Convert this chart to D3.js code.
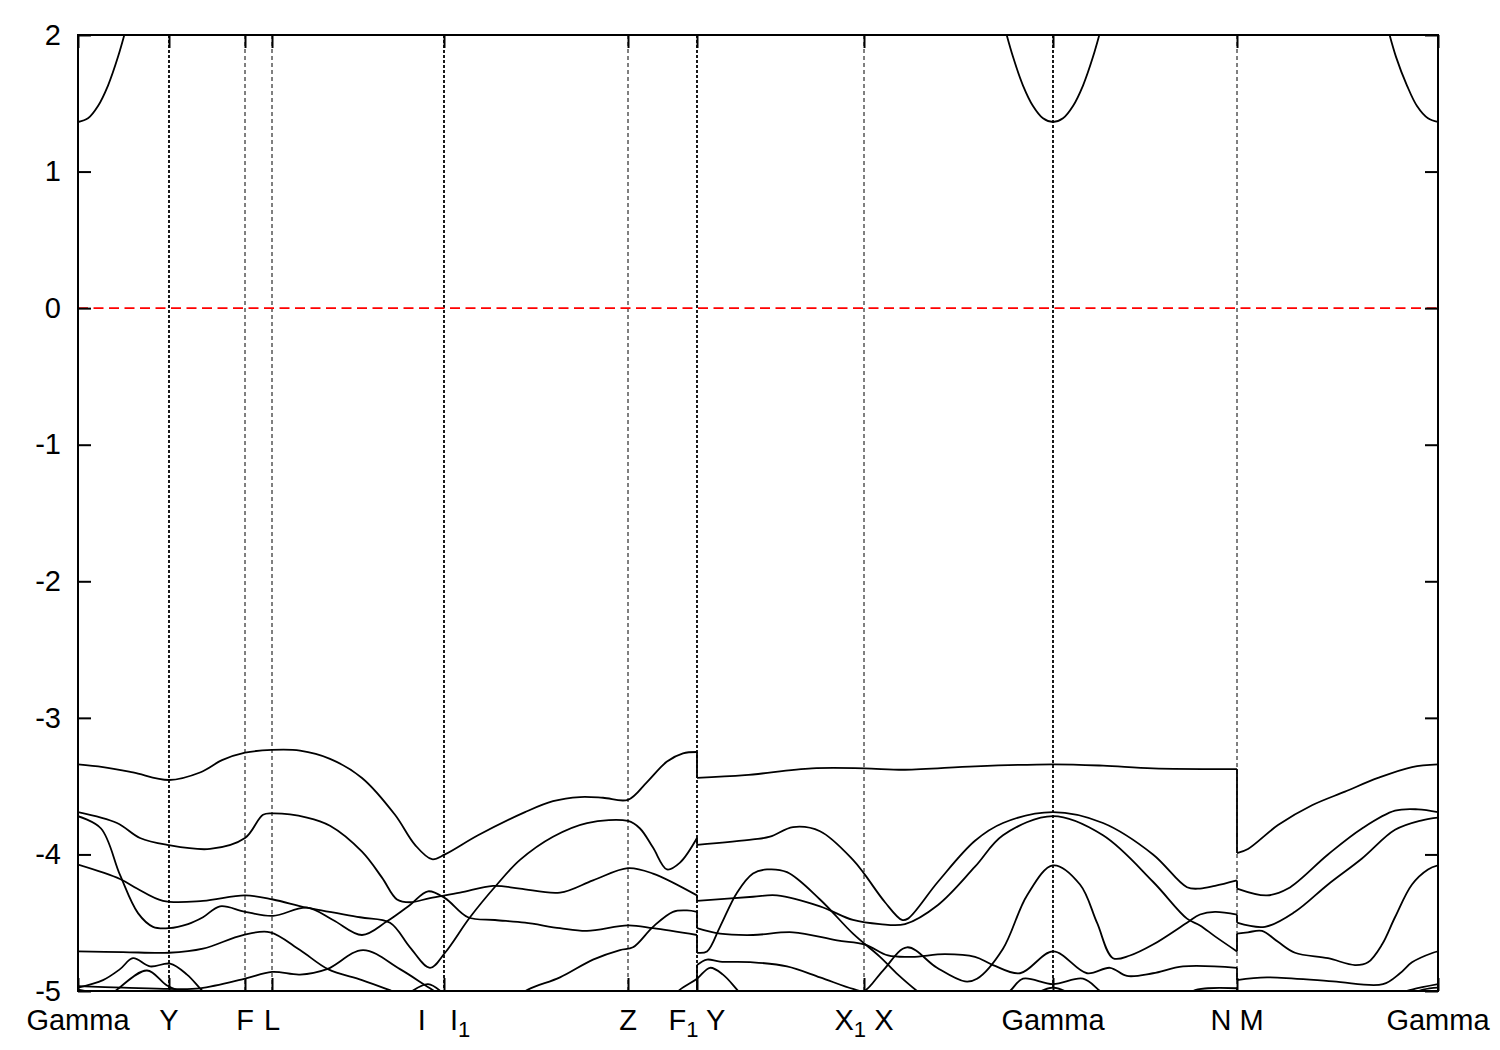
<!DOCTYPE html>
<html>
<head>
<meta charset="utf-8">
<script src="https://cdn.jsdelivr.net/npm/d3@7/dist/d3.min.js"></script>
<style>
  html, body { margin: 0; padding: 0; background: #fff; }
  svg { display: block; }
</style>
</head>
<body>
<script>
// ---------------- DATA ----------------
// high-symmetry k-point positions (path length units) and their labels
const kPositions = [0, 0.91, 1.67, 1.94, 3.66, 5.50, 6.19, 7.86, 9.75, 11.59, 13.60];
const kLabels = ["Gamma", "Y", "F", "L", "I   I_1", "Z", "F_1 Y", "X_1 X", "Gamma", "N M", "Gamma"];
const energyTicks = [-5, -4, -3, -2, -1, 0, 1, 2];
const fermiLevel = 0;

// conduction band pieces [k, E]
const cb1 = [[0,1.363],[0.10,1.39],[0.20,1.48],[0.30,1.63],[0.40,1.84],[0.50,2.10]];
const cb2 = [[9.25,2.10],[9.35,1.84],[9.45,1.63],[9.55,1.48],[9.65,1.39],[9.75,1.363],[9.85,1.39],[9.95,1.48],[10.05,1.63],[10.15,1.84],[10.25,2.10]];
const cb3 = [[13.08,2.10],[13.18,1.84],[13.29,1.63],[13.39,1.48],[13.50,1.39],[13.60,1.363]];

// valence bands [k, E]; a repeated k marks a discontinuity of the path
const band1 = [[0,-3.34],[0.25,-3.36],[0.55,-3.40],[0.91,-3.455],[1.22,-3.40],[1.44,-3.31],[1.67,-3.255],[1.94,-3.235],[2.22,-3.24],[2.52,-3.30],[2.84,-3.44],[3.17,-3.71],[3.37,-3.93],[3.54,-4.035],[3.67,-4.00],[4.00,-3.86],[4.47,-3.69],[4.75,-3.61],[5.02,-3.58],[5.25,-3.585],[5.50,-3.60],[5.69,-3.47],[5.89,-3.32],[6.05,-3.26],[6.19,-3.25],
  [6.19,-3.44],[6.67,-3.42],[7.34,-3.37],[7.86,-3.37],[8.27,-3.38],[8.97,-3.355],[9.75,-3.34],[10.25,-3.35],[10.75,-3.37],[11.59,-3.375],
  [11.59,-3.99],[11.70,-3.96],[12.00,-3.785],[12.34,-3.64],[12.67,-3.54],[13.00,-3.44],[13.34,-3.36],[13.60,-3.34]];
const band2 = [[0,-3.69],[0.39,-3.77],[0.62,-3.88],[0.89,-3.93],[1.32,-3.96],[1.67,-3.88],[1.85,-3.71],[1.95,-3.70],[2.29,-3.73],[2.52,-3.79],[2.84,-3.98],[3.04,-4.17],[3.19,-4.33],[3.32,-4.35],[3.52,-4.32],[3.82,-4.28],[4.15,-4.23],[4.42,-4.25],[4.82,-4.28],[5.15,-4.19],[5.50,-4.10],[5.75,-4.14],[6.19,-4.30],
  [6.19,-4.34],[6.75,-4.31],[6.99,-4.30],[7.42,-4.38],[7.75,-4.48],[8.02,-4.51],[8.27,-4.51],[8.60,-4.37],[8.97,-4.09],[9.25,-3.86],[9.75,-3.72],[10.25,-3.86],[10.75,-4.20],[11.09,-4.47],[11.22,-4.52],[11.37,-4.60],[11.59,-4.71],
  [11.59,-4.58],[11.70,-4.57],[11.84,-4.56],[12.00,-4.64],[12.17,-4.72],[12.50,-4.76],[12.77,-4.81],[12.90,-4.79],[13.04,-4.66],[13.17,-4.46],[13.34,-4.22],[13.50,-4.11],[13.60,-4.08]];
const band3 = [[0,-3.72],[0.23,-3.81],[0.42,-4.15],[0.60,-4.43],[0.75,-4.53],[0.91,-4.54],[1.10,-4.51],[1.25,-4.46],[1.42,-4.38],[1.67,-4.42],[1.95,-4.45],[2.29,-4.39],[2.55,-4.48],[2.84,-4.59],[3.09,-4.49],[3.32,-4.37],[3.50,-4.27],[3.67,-4.32],[3.90,-4.46],[4.17,-4.48],[4.47,-4.50],[4.82,-4.54],[5.09,-4.56],[5.50,-4.52],[5.75,-4.54],[6.19,-4.59],
  [6.19,-4.72],[6.29,-4.71],[6.42,-4.53],[6.59,-4.28],[6.75,-4.14],[6.89,-4.11],[7.09,-4.13],[7.42,-4.33],[7.75,-4.58],[8.02,-4.75],[8.20,-4.88],[8.39,-5.00],[8.60,-5.12],[9.20,-5.25],[10.40,-5.25],[11.00,-5.10],[11.15,-5.00],[11.30,-4.98],[11.59,-4.98],
  [11.59,-5.05],[11.90,-5.15],[12.80,-5.20],[13.17,-5.03],[13.34,-4.99],[13.60,-4.95]];
const band4 = [[0,-4.075],[0.42,-4.18],[0.59,-4.25],[0.85,-4.34],[1.25,-4.34],[1.67,-4.30],[1.95,-4.33],[2.29,-4.39],[2.82,-4.46],[3.12,-4.50],[3.32,-4.68],[3.52,-4.83],[3.67,-4.72],[3.92,-4.46],[4.19,-4.22],[4.42,-4.04],[4.75,-3.87],[5.09,-3.77],[5.50,-3.755],[5.62,-3.81],[5.75,-3.95],[5.89,-4.11],[6.02,-4.06],[6.19,-3.88],
  [6.19,-3.93],[6.75,-3.89],[6.92,-3.87],[7.15,-3.80],[7.42,-3.83],[7.75,-4.04],[7.87,-4.15],[8.07,-4.35],[8.24,-4.48],[8.30,-4.47],[8.60,-4.20],[8.97,-3.90],[9.25,-3.77],[9.75,-3.69],[10.25,-3.77],[10.75,-4.00],[11.09,-4.24],[11.22,-4.25],[11.37,-4.23],[11.59,-4.19],
  [11.59,-4.25],[11.89,-4.30],[12.10,-4.25],[12.50,-4.00],[12.84,-3.81],[13.17,-3.68],[13.40,-3.67],[13.60,-3.69]];
const band5 = [[0,-4.71],[0.45,-4.715],[0.91,-4.72],[1.25,-4.69],[1.65,-4.59],[1.92,-4.57],[2.22,-4.70],[2.50,-4.84],[2.84,-4.92],[3.14,-5.00],[3.50,-5.10],[5.00,-5.25],[6.19,-5.12],
  [6.19,-4.81],[6.29,-4.77],[6.42,-4.785],[6.75,-4.79],[7.09,-4.82],[7.42,-4.90],[7.75,-4.985],[7.86,-5.00],[8.05,-4.85],[8.29,-4.68],[8.59,-4.83],[8.87,-4.93],[8.99,-4.91],[9.25,-4.69],[9.49,-4.30],[9.75,-4.08],[10.02,-4.22],[10.19,-4.50],[10.35,-4.76],[10.52,-4.74],[10.75,-4.66],[11.09,-4.50],[11.22,-4.44],[11.37,-4.42],[11.59,-4.44],
  [11.59,-4.50],[11.87,-4.53],[12.17,-4.42],[12.50,-4.22],[12.84,-4.03],[13.17,-3.82],[13.44,-3.75],[13.60,-3.73]];
const band6 = [[0,-4.965],[0.45,-4.975],[0.91,-4.985],[1.22,-4.98],[1.67,-4.91],[1.94,-4.86],[2.22,-4.88],[2.49,-4.84],[2.85,-4.70],[3.22,-4.84],[3.52,-4.98],[3.75,-5.08],[4.20,-5.12],[4.50,-4.99],[4.82,-4.90],[5.15,-4.77],[5.42,-4.70],[5.55,-4.68],[5.75,-4.53],[5.95,-4.42],[6.09,-4.41],[6.19,-4.42],
  [6.19,-4.54],[6.42,-4.58],[6.75,-4.59],[7.15,-4.57],[7.59,-4.63],[7.87,-4.66],[8.10,-4.74],[8.34,-4.75],[8.67,-4.73],[8.97,-4.75],[9.15,-4.81],[9.42,-4.87],[9.75,-4.71],[10.09,-4.87],[10.32,-4.83],[10.49,-4.89],[10.75,-4.87],[11.05,-4.82],[11.59,-4.83],
  [11.59,-4.92],[11.89,-4.90],[12.55,-4.93],[13.05,-4.95],[13.22,-4.87],[13.34,-4.79],[13.55,-4.72],[13.60,-4.71]];
const band7 = [[0,-4.975],[0.25,-4.92],[0.42,-4.84],[0.55,-4.76],[0.72,-4.82],[0.92,-4.80],[1.09,-4.88],[1.22,-4.98],[1.35,-5.08]];
const band8 = [[0.25,-5.08],[0.39,-4.99],[0.69,-4.85],[0.89,-4.96],[1.05,-5.01],[1.25,-5.08]];
const band9 = [[3.25,-5.05],[3.50,-4.95],[3.70,-5.05]];
const band10 = [[5.85,-5.10],[6.02,-4.99],[6.19,-4.91],[6.32,-4.83],[6.45,-4.88],[6.59,-4.99],[6.72,-5.10]];
const band11 = [[9.15,-5.10],[9.32,-5.00],[9.45,-4.91],[9.75,-4.95],[10.05,-4.91],[10.22,-5.00],[10.38,-5.10]];
const band12 = [[9.55,-5.03],[9.75,-4.975],[9.95,-5.03]];
const band13 = [[13.20,-5.06],[13.45,-4.99],[13.60,-4.975]];
const band14 = [[0,-4.99],[0.30,-5.03]];

const conductionBands = [cb1, cb2, cb3];
const valenceBands = [band1, band2, band3, band4, band5, band6, band7, band8, band9, band10, band11, band12, band13, band14];

// ---------------- LAYOUT ----------------
const W = 1500, H = 1050;
const M = {left: 78, right: 62, top: 35, bottom: 59};
const FONT = "'Liberation Sans', Arial, Helvetica, sans-serif";
const FS = 29;
const LW = 1.8;

const x = d3.scaleLinear().domain([kPositions[0], kPositions[kPositions.length - 1]]).range([M.left, W - M.right]);
const y = d3.scaleLinear().domain([-5, 2]).range([H - M.bottom, M.top]);

const svg = d3.select("body").append("svg").attr("width", W).attr("height", H);
svg.append("rect").attr("width", W).attr("height", H).attr("fill", "#fff");

svg.append("defs").append("clipPath").attr("id", "plotclip")
  .append("rect").attr("x", M.left).attr("y", M.top)
  .attr("width", W - M.left - M.right).attr("height", H - M.top - M.bottom);

// vertical high-symmetry lines
const heavy = new Set([1, 4, 6, 8]);
svg.append("g").selectAll("line")
  .data(kPositions.map((k, i) => ({k, i})).filter(d => d.i > 0 && d.i < kPositions.length - 1))
  .join("line")
  .attr("x1", d => x(d.k)).attr("x2", d => x(d.k))
  .attr("y1", y(2)).attr("y2", y(-5))
  .attr("stroke", "#000")
  .attr("stroke-width", d => heavy.has(d.i) ? 1.8 : 1)
  .attr("stroke-dasharray", d => heavy.has(d.i) ? "3,2" : "4,3");

// Fermi level
svg.append("line")
  .attr("x1", x.range()[0]).attr("x2", x.range()[1])
  .attr("y1", y(fermiLevel)).attr("y2", y(fermiLevel))
  .attr("stroke", "#ff0000").attr("stroke-width", 1.8).attr("stroke-dasharray", "10,5.5");

// bands
const plot = svg.append("g").attr("clip-path", "url(#plotclip)");
const smooth = d3.line().x(d => x(d[0])).y(d => y(d[1])).curve(d3.curveCatmullRom.alpha(0.5));
const straight = d3.line().x(d => x(d[0])).y(d => y(d[1]));

function pieces(band) {
  const out = [[band[0]]];
  for (let i = 1; i < band.length; i++) {
    if (band[i][0] === band[i - 1][0]) out.push([band[i]]);
    else out[out.length - 1].push(band[i]);
  }
  return out;
}

[...conductionBands, ...valenceBands].forEach(band => {
  const ps = pieces(band);
  ps.forEach((p, j) => {
    if (p.length > 1) {
      plot.append("path").attr("d", smooth(p))
        .attr("fill", "none").attr("stroke", "#000").attr("stroke-width", LW);
    }
    if (j > 0) {
      const prev = ps[j - 1];
      plot.append("path").attr("d", straight([prev[prev.length - 1], p[0]]))
        .attr("fill", "none").attr("stroke", "#000").attr("stroke-width", LW);
    }
  });
});

// axes (ticks inward on all four sides)
function styleAxis(g) {
  g.select(".domain").remove();
  g.selectAll(".tick line").attr("stroke-width", 2);
  g.attr("font-size", FS).attr("font-family", FONT);
}
svg.append("g").attr("transform", `translate(${M.left},0)`)
  .call(d3.axisLeft(y).tickValues(energyTicks).tickSizeInner(-13).tickSizeOuter(0).tickPadding(17).tickFormat(d => String(d)))
  .call(styleAxis)
  .selectAll("text").attr("fill", "#000");
svg.append("g").attr("transform", `translate(${W - M.right},0)`)
  .call(d3.axisRight(y).tickValues(energyTicks).tickSizeInner(-13).tickSizeOuter(0).tickFormat(""))
  .call(styleAxis);
svg.append("g").attr("transform", `translate(0,${H - M.bottom})`)
  .call(d3.axisBottom(x).tickValues(kPositions).tickSizeInner(-13).tickSizeOuter(0).tickFormat(""))
  .call(styleAxis);
svg.append("g").attr("transform", `translate(0,${M.top})`)
  .call(d3.axisTop(x).tickValues(kPositions).tickSizeInner(-13).tickSizeOuter(0).tickFormat(""))
  .call(styleAxis);

// border
svg.append("rect")
  .attr("x", M.left).attr("y", M.top)
  .attr("width", W - M.left - M.right).attr("height", H - M.top - M.bottom)
  .attr("fill", "none").attr("stroke", "#000").attr("stroke-width", 2);

// x labels with subscripts
const xl = svg.append("g").attr("font-family", FONT).attr("font-size", FS).attr("fill", "#000");
kLabels.forEach((lab, i) => {
  const t = xl.append("text")
    .attr("x", x(kPositions[i])).attr("y", H - M.bottom + 39)
    .attr("text-anchor", "middle")
    .attr("xml:space", "preserve")
    .style("white-space", "pre");
  const parts = lab.split(/(_.)/);
  let shifted = false;
  parts.forEach(p => {
    if (!p) return;
    if (p[0] === "_") {
      t.append("tspan").attr("font-size", 22).attr("dy", 7).text(p[1]);
      shifted = true;
    } else {
      const s = t.append("tspan").text(p);
      if (shifted) { s.attr("dy", -7); shifted = false; }
    }
  });
});
</script>
</body>
</html>
